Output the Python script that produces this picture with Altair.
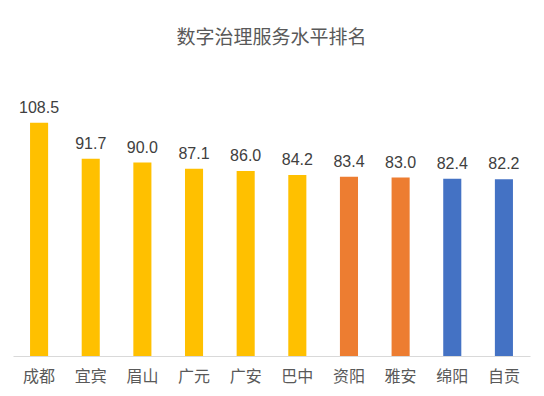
import altair as alt
import pandas as pd

cities = ["成都", "宜宾", "眉山", "广元", "广安", "巴中", "资阳", "雅安", "绵阳", "自贡"]
values = [108.5, 91.7, 90.0, 87.1, 86.0, 84.2, 83.4, 83.0, 82.4, 82.2]
groups = ["a", "a", "a", "a", "a", "a", "b", "b", "c", "c"]
colors = ["#FFC000", "#ED7D31", "#4472C4"]

df = pd.DataFrame({"city": cities, "value": values, "group": groups})

x = alt.X("city:N", sort=cities, title=None,
          scale=alt.Scale(paddingInner=0.65, paddingOuter=0.33),
          axis=alt.Axis(labelAngle=0, ticks=False, domainColor="#D9D9D9", domainWidth=1,
                        labelFont="Noto Sans CJK SC", labelFontSize=16, labelColor="#595959",
                        labelPadding=12, grid=False))
y = alt.Y("value:Q", title=None, scale=alt.Scale(domain=[0, 120]), axis=None)

bars = alt.Chart(df).mark_bar().encode(
    x=x, y=y,
    color=alt.Color("group:N", scale=alt.Scale(domain=["a", "b", "c"], range=colors), legend=None),
)
labels = alt.Chart(df).mark_text(dy=-7, baseline="bottom", font="Liberation Sans",
                                 fontSize=16, color="#404040").encode(
    x=x, y=y, text=alt.Text("value:Q", format=".1f"))

chart = (bars + labels).properties(
    width=517, height=258,
    autosize=alt.AutoSizeParams(type="none"),
    padding={"left": 5, "top": 90, "right": 6, "bottom": 30},
    title=alt.TitleParams("数字治理服务水平排名", font="Noto Sans CJK SC", fontSize=19,
                          fontWeight="normal", color="#595959", anchor="middle", offset=50),
).configure_view(stroke=None)

chart.save("out.html", embed_options={"renderer": "svg", "actions": False})
